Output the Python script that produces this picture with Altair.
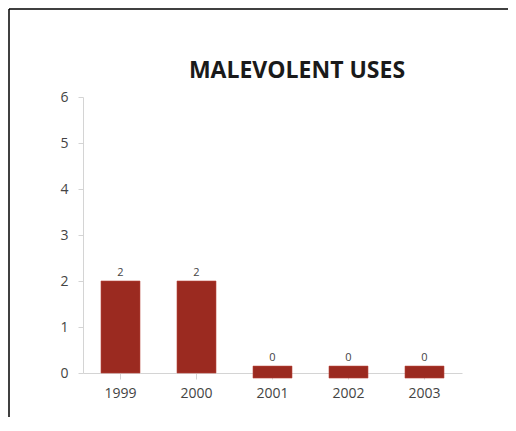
import altair as alt
import pandas as pd

years = ["1999", "2000", "2001", "2002", "2003"]
values = [2, 2, 0, 0, 0]
y_ticks = [0, 1, 2, 3, 4, 5, 6]
title_text = "MALEVOLENT USES"

df = pd.DataFrame({"year": years, "v": values})

BAR = "#9b2a20"
AXIS = "#d4d4d4"
FONT = "Open Sans"

x_enc = alt.X("year:N", sort=years,
              scale=alt.Scale(paddingInner=0.487, paddingOuter=0.237),
              axis=alt.Axis(title=None, labelAngle=0, labelFont=FONT, labelFontSize=14,
                            labelColor="#444", labelPadding=7, tickSize=6,
                            tickColor=AXIS, domainColor=AXIS, grid=False))
y_scale = alt.Scale(domain=[0, 6], nice=False, zero=False)

base = alt.Chart(df).transform_calculate(
    lo="datum.v == 0 ? -0.11 : 0",
    hi="datum.v == 0 ? 0.15 : datum.v",
)

bars = base.mark_bar(color=BAR, stroke="#b8453a", strokeWidth=0.6, clip=False).encode(
    x=x_enc,
    y=alt.Y("lo:Q", scale=y_scale,
            axis=alt.Axis(title=None, values=y_ticks, labelFont=FONT, labelFontSize=14,
                          labelColor="#444", labelPadding=10, tickSize=5,
                          tickColor=AXIS, domainColor=AXIS, grid=False)),
    y2="hi:Q",
)

labels = base.mark_text(baseline="bottom", dy=-3, font=FONT, fontSize=11,
                        color="#444").encode(
    x=alt.X("year:N", sort=years),
    y=alt.Y("hi:Q", scale=y_scale),
    text="v:Q",
)

frame_data = alt.Data(values=[{"t": title_text}])
left_line = alt.Chart(frame_data).mark_rule(color="black", strokeWidth=1.5).encode(
    x=alt.value(-74), y=alt.value(-88), y2=alt.value(320))
top_line = alt.Chart(frame_data).mark_rule(color="black", strokeWidth=1.5).encode(
    x=alt.value(-74), x2=alt.value(430), y=alt.value(-88))
title = alt.Chart(frame_data).mark_text(font=FONT, fontSize=23, fontWeight="bold",
                                        color="#1a1a1a", align="center",
                                        baseline="alphabetic").encode(
    x=alt.value(214), y=alt.value(-19), text="t:N")

chart = alt.layer(bars, labels, left_line, top_line, title).properties(
    width=379, height=276,
    padding={"left": 75, "top": 89, "right": 46, "bottom": 44},
    autosize=alt.AutoSizeParams(type="none"),
).configure_view(stroke=None)

chart.save("out.html", embed_options={"renderer": "svg", "actions": False})
